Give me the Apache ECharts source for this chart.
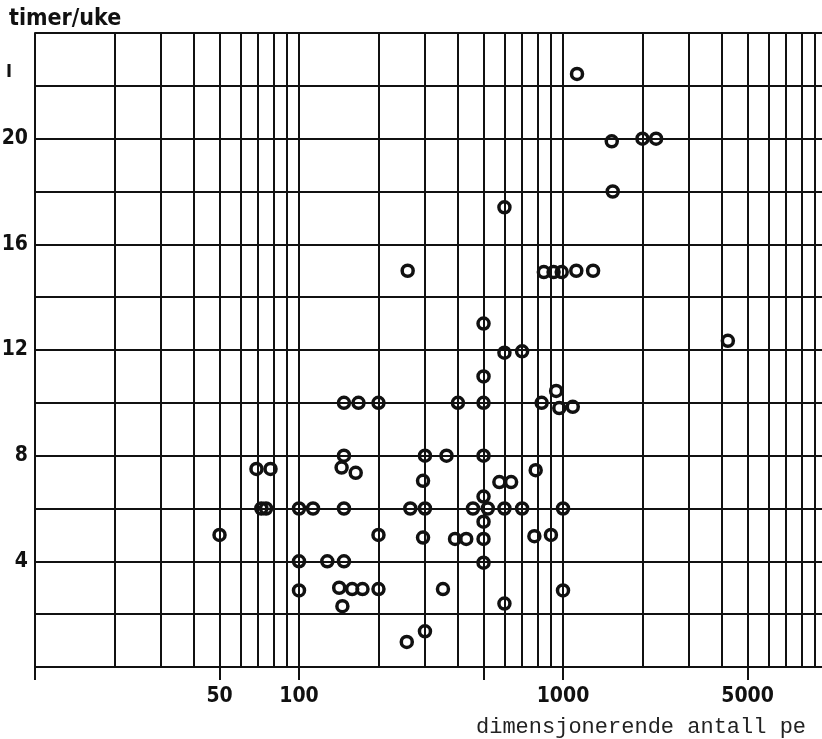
<!DOCTYPE html>
<html>
<head>
<meta charset="utf-8">
<title>timer/uke</title>
<script src="https://cdn.jsdelivr.net/npm/echarts@6/dist/echarts.min.js"></script>
<style>
    html, body { margin: 0; padding: 0; background: #fff; }
    #scatter-chart { width: 822px; height: 739px; }
</style>
</head>
<body>
<div id="scatter-chart"></div>
<script>
// antall (x, log) og timer/uke (y) lest av figuren
var antall = [50, 69, 78, 72, 75, 100, 113, 148, 148, 168, 200, 148, 145, 164, 200, 100, 128, 148, 100, 142, 159, 174, 200, 146,
    258, 256, 300, 351, 264, 300, 295, 300, 295, 362, 400, 390, 430, 456,
    500, 500, 500, 500, 500, 519, 500, 500, 500,
    574, 636, 600, 700, 600, 700, 600, 600,
    788, 779, 830, 900, 942, 968, 1089, 1000, 1000,
    846, 921, 989, 1123, 1300, 1130, 1530, 2000, 2252, 1543, 4212];
var timer = [5, 7.5, 7.5, 6, 6, 6, 6, 6, 10, 10, 10, 8, 7.55, 7.35, 5, 4, 4, 4, 2.9, 3, 2.95, 2.95, 2.95, 2.3,
    15, 0.95, 1.35, 2.95, 6, 6, 4.9, 8, 7.05, 8, 10, 4.85, 4.85, 6,
    13, 11, 10, 8, 6.45, 6, 5.5, 4.85, 3.95,
    7, 7, 6, 6, 11.9, 11.95, 17.4, 2.4,
    7.45, 4.95, 10, 5, 10.45, 9.8, 9.85, 6, 2.9,
    14.95, 14.95, 14.95, 15, 15, 22.45, 19.9, 20, 20, 18, 12.35];

// rutenett og akseetiketter
var gridX = [10, 20, 30, 40, 50, 60, 70, 80, 90,
    100, 200, 300, 400, 500, 600, 700, 800, 900,
    1000, 2000, 3000, 4000, 5000, 6000, 7000, 8000, 9000, 10000];
var tickX = [10, 50, 100, 500, 1000, 5000];
var labelX = [50, 100, 1000, 5000];
var labelY = [4, 8, 12, 16, 20];

var points = [];
for (var i = 0; i < antall.length; i++) {
    points.push([antall[i], timer[i]]);
}

var lineColor = '#111';
var labelFont = "'DejaVu Sans Condensed', 'DejaVu Sans', sans-serif";

var chart = echarts.init(document.getElementById('scatter-chart'));
var option = {
    animation: false,
    backgroundColor: '#fff',
    title: {
        text: 'timer/uke',
        left: 4,
        top: 3,
        textStyle: {
            fontFamily: labelFont,
            fontSize: 23,
            fontWeight: 'bold',
            color: lineColor
        }
    },
    grid: {
        left: 35,
        top: 33,
        right: -5,
        bottom: 72,
        containLabel: false,
        outerBoundsMode: 'none'
    },
    xAxis: [
        {
            type: 'log',
            logBase: 10,
            min: 10,
            max: 10000,
            position: 'bottom',
            axisLine: { show: true, lineStyle: { color: lineColor, width: 2 } },
            axisTick: { show: false, customValues: gridX },
            axisLabel: { show: false },
            splitLine: { show: true, lineStyle: { color: lineColor, width: 2 } }
        },
        {
            type: 'log',
            logBase: 10,
            min: 10,
            max: 10000,
            position: 'bottom',
            axisLine: { show: false },
            axisTick: {
                show: true,
                customValues: tickX,
                length: 13,
                lineStyle: { color: lineColor, width: 2 }
            },
            axisLabel: {
                show: true,
                customValues: labelX,
                margin: 19,
                fontFamily: labelFont,
                fontSize: 21,
                fontWeight: 'bold',
                color: lineColor,
                formatter: function (v) { return String(v); }
            },
            splitLine: { show: false }
        }
    ],
    yAxis: {
        type: 'value',
        min: 0,
        max: 24,
        interval: 2,
        axisLine: { show: true, lineStyle: { color: lineColor, width: 2 } },
        axisTick: { show: false },
        axisLabel: {
            customValues: labelY,
            margin: 7,
            fontFamily: labelFont,
            fontSize: 21,
            fontWeight: 'bold',
            color: lineColor
        },
        splitLine: { show: true, lineStyle: { color: lineColor, width: 2 } }
    },
    graphic: [
        {
            type: 'text',
            left: 6,
            top: 63,
            style: {
                text: 'I',
                font: 'bold 18px ' + labelFont,
                fill: lineColor
            }
        },
        {
            type: 'text',
            left: 476,
            top: 716,
            style: {
                text: 'dimensjonerende antall pe',
                font: "22px 'Liberation Mono', 'DejaVu Sans Mono', monospace",
                fill: '#222'
            }
        }
    ],
    series: [
        {
            name: 'timer/uke',
            type: 'scatter',
            xAxisIndex: 0,
            symbol: 'circle',
            symbolSize: 11,
            itemStyle: {
                color: 'rgba(0,0,0,0)',
                borderColor: lineColor,
                borderWidth: 3.5,
                opacity: 1
            },
            data: points
        }
    ]
};
chart.setOption(option);
</script>
</body>
</html>
